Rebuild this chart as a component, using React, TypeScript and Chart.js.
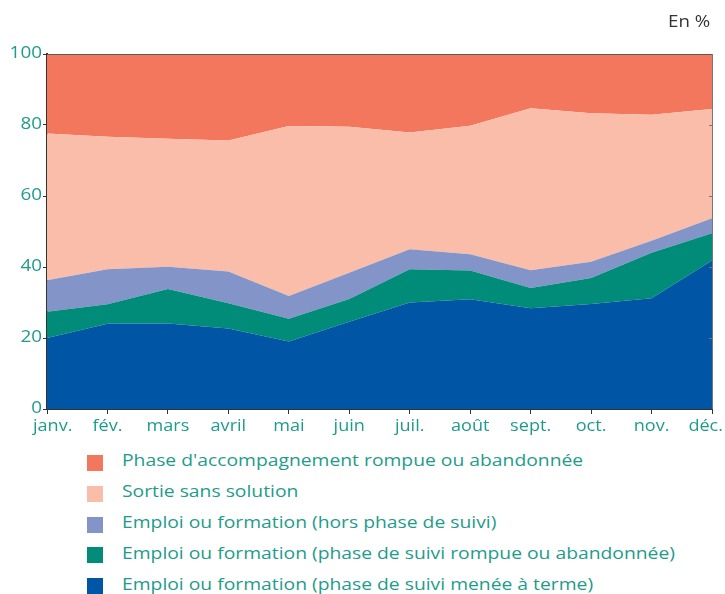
import React, { useEffect, useRef } from "react";
import { Chart, registerables } from "chart.js";

Chart.register(...registerables);

const months = ["janv.", "fév.", "mars", "avril", "mai", "juin", "juil.", "août", "sept.", "oct.", "nov.", "déc."];

const suiviTerme = [20.0, 24.0, 24.1, 22.7, 19.0, 24.6, 30.0, 30.9, 28.4, 29.6, 31.2, 41.8];
const suiviRompu = [7.4, 5.5, 9.7, 7.1, 6.4, 6.4, 9.4, 8.1, 5.7, 7.3, 12.8, 7.7];
const horsSuivi = [8.9, 9.9, 6.3, 8.9, 6.4, 7.4, 5.6, 4.6, 5.0, 4.6, 3.4, 4.2];
const sansSolution = [41.3, 37.3, 36.0, 36.9, 47.9, 41.1, 32.9, 36.2, 45.6, 41.8, 35.5, 30.8];
const accompRompu = [22.4, 23.3, 23.9, 24.4, 20.3, 20.5, 22.1, 20.2, 15.3, 16.7, 17.1, 15.5];

const yTicks = [0, 20, 40, 60, 80, 100];

const legendItems = [
  { label: "Phase d'accompagnement rompue ou abandonnée", color: "#F3775C" },
  { label: "Sortie sans solution", color: "#F9BDAA" },
  { label: "Emploi ou formation (hors phase de suivi)", color: "#8394C8" },
  { label: "Emploi ou formation (phase de suivi rompue ou abandonnée)", color: "#008C78" },
  { label: "Emploi ou formation (phase de suivi menée à terme)", color: "#0055A4" },
];

const TEAL = "#1E9C8B";
const FONT = "'Open Sans', 'Noto Sans', sans-serif";

function drawStretched(ctx: CanvasRenderingContext2D, text: string, x: number, y: number, sx: number) {
  ctx.save();
  ctx.translate(x, y);
  ctx.scale(sx, 1);
  ctx.fillText(text, 0, 0);
  ctx.restore();
}

export default function App() {
  const ref = useRef<HTMLCanvasElement | null>(null);

  useEffect(() => {
    if (!ref.current) return;
    const ds = (label: string, data: number[], color: string, fill: any) => ({
      label,
      data,
      backgroundColor: color,
      borderColor: color,
      borderWidth: 0,
      pointRadius: 0,
      fill,
      tension: 0,
    });

    const framePlugin = {
      id: "frame",
      afterDraw(chart: any) {
        const { ctx, chartArea, scales } = chart;
        const { left, right, top, bottom } = chartArea;
        ctx.save();
        ctx.strokeStyle = "#6b5550";
        ctx.lineWidth = 1;
        ctx.beginPath();
        ctx.moveTo(left, top + 0.5);
        ctx.lineTo(right, top + 0.5);
        ctx.stroke();
        ctx.strokeStyle = "#777";
        ctx.beginPath();
        ctx.moveTo(right + 0.5, top);
        ctx.lineTo(right + 0.5, bottom);
        for (const v of [20, 40, 60, 80]) {
          const py = Math.round(scales.y.getPixelForValue(v)) + 0.5;
          ctx.moveTo(right - 3, py);
          ctx.lineTo(right + 0.5, py);
        }
        ctx.stroke();

        ctx.fillStyle = TEAL;
        ctx.textAlign = "left";

        // y labels
        ctx.font = "16px " + FONT;
        ctx.textBaseline = "middle";
        const sy = 1.18;
        for (const v of yTicks) {
          const t = String(v);
          const w = ctx.measureText(t).width * sy;
          const py = scales.y.getPixelForValue(v) - 1;
          drawStretched(ctx, t, left - 5 - w, py, sy);
        }

        // x labels, kept inside the drawing
        ctx.font = "16px " + FONT;
        ctx.textBaseline = "alphabetic";
        const sxl = 1.13;
        const minX = 33;
        const maxX = 723;
        months.forEach((m, i) => {
          const w = ctx.measureText(m).width * sxl;
          let x = scales.x.getPixelForValue(i) - w / 2;
          if (x < minX) x = minX;
          if (x + w > maxX) x = maxX - w;
          drawStretched(ctx, m, x, bottom + 22, sxl);
        });
        ctx.restore();
      },
    };

    const chart = new Chart(ref.current, {
      type: "line",
      data: {
        labels: months,
        datasets: [
          ds("Emploi ou formation (phase de suivi menée à terme)", suiviTerme, "#0055A4", "origin"),
          ds("Emploi ou formation (phase de suivi rompue ou abandonnée)", suiviRompu, "#008C78", "-1"),
          ds("Emploi ou formation (hors phase de suivi)", horsSuivi, "#8394C8", "-1"),
          ds("Sortie sans solution", sansSolution, "#F9BDAA", "-1"),
          ds("Phase d'accompagnement rompue ou abandonnée", accompRompu, "#F3775C", "-1"),
        ],
      },
      options: {
        responsive: false,
        animation: false,
        layout: { padding: { top: 54, right: 13, left: 0, bottom: 6 } },
        plugins: {
          legend: { display: false },
          tooltip: { enabled: false },
          filler: { propagate: false },
        },
        elements: { line: { borderWidth: 0 } },
        scales: {
          x: {
            offset: false,
            grid: {
              display: true,
              drawOnChartArea: false,
              drawTicks: true,
              tickLength: 5,
              color: "#333",
            },
            border: { display: true, color: "#333", width: 2 },
            ticks: { color: "transparent", font: { size: 15, family: FONT } },
            afterFit(scale: any) {
              scale.height = 30;
              scale.paddingLeft = 0;
              scale.paddingRight = 0;
            },
          },
          y: {
            stacked: true,
            min: 0,
            max: 100,
            afterBuildTicks(scale: any) {
              scale.ticks = yTicks.map((v) => ({ value: v }));
            },
            grid: {
              display: true,
              drawOnChartArea: false,
              drawTicks: true,
              tickLength: 4,
              color: "#333",
            },
            border: { display: true, color: "#333", width: 2 },
            ticks: {
              color: "transparent",
              padding: 1,
              font: { size: 15, family: FONT },
            },
            afterFit(scale: any) {
              scale.width = 47;
              scale.paddingTop = 0;
              scale.paddingBottom = 0;
            },
          },
        },
      },
      plugins: [framePlugin],
    });
    return () => chart.destroy();
  }, []);

  return (
    <div style={{ position: "absolute", left: 0, top: 0, width: 725, height: 594, background: "#fff", fontFamily: FONT }}>
      <canvas ref={ref} width={725} height={445} style={{ position: "absolute", left: 0, top: 0 }} />
      <div
        style={{
          position: "absolute",
          left: 668,
          top: 11,
          fontSize: 17,
          lineHeight: "20px",
          color: "#333",
          whiteSpace: "nowrap",
          transform: "scaleX(1.1)",
          transformOrigin: "left top",
        }}
      >
        En %
      </div>
      {legendItems.map((it, i) => {
        const top = 450.4 + i * 30.8;
        return (
          <React.Fragment key={it.label}>
            <div style={{ position: "absolute", left: 87, top: top + 4.6, width: 16, height: 16, background: it.color }} />
            <div
              style={{
                position: "absolute",
                left: 122,
                top,
                fontSize: 17,
                lineHeight: "20px",
                color: TEAL,
                whiteSpace: "nowrap",
                transform: "scaleX(1.135)",
                transformOrigin: "left top",
              }}
            >
              {it.label}
            </div>
          </React.Fragment>
        );
      })}
    </div>
  );
}
